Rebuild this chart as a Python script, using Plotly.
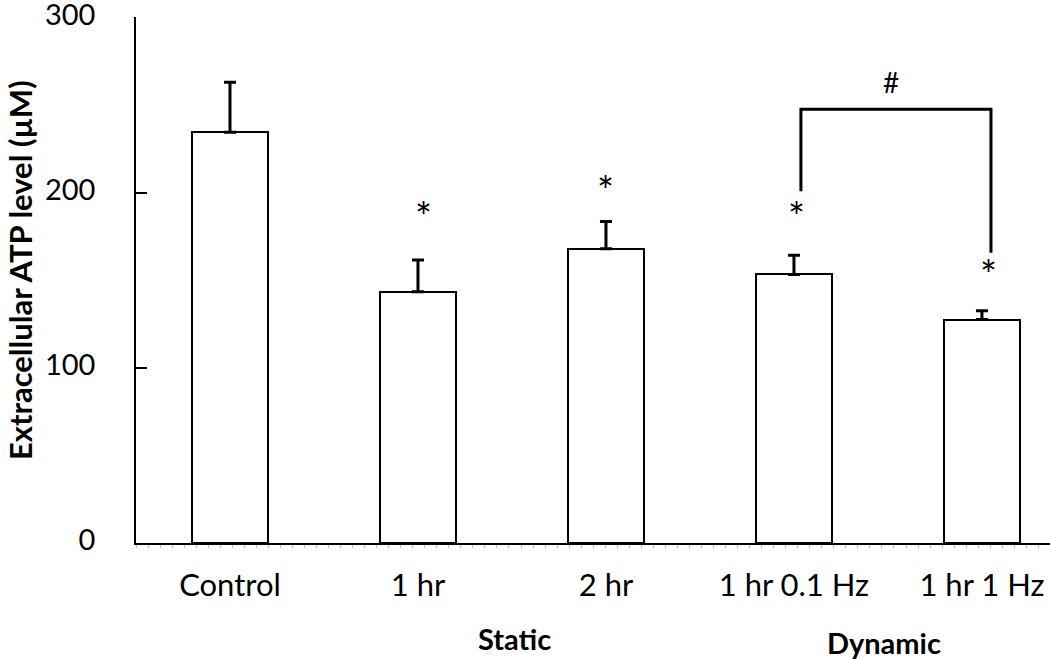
import plotly.graph_objects as go

categories = ["Control", "1 hr", "2 hr", "1 hr 0.1 Hz", "1 hr 1 Hz"]
atp_mean = [234.5, 143.5, 168.0, 153.3, 127.6]
atp_sem = [28.6, 18.0, 15.6, 11.0, 5.0]

star_x = [1.03, 2.0, 3.015, 4.035]
star_y = [186, 201, 186, 153]

bracket_x = [3.037, 3.037, 4.048, 4.048]
bracket_y = [200.8, 247.7, 247.7, 165.7]
hash_pos = (3.516, 263)

group_labels = ["Static", "Dynamic"]
group_x = [1.516, 3.48]
group_y_px = [638, 642]  # vertical position of the group captions, pixels from top

y_title = "Extracellular ATP level (µM)"
y_title_px = (20, 270)  # centre of the rotated y-axis title, pixels

FONT = "Lato"
xs = list(range(len(categories)))
W, H = 1050, 659
L, T, B = 136, 17, 116
YMAX = 300.3

fig = go.Figure()
fig.add_trace(go.Bar(
    x=xs, y=atp_mean, width=0.4,
    marker=dict(color="white", line=dict(color="black", width=2)),
    error_y=dict(type="data", symmetric=False, array=atp_sem,
                 arrayminus=[0] * len(atp_sem), thickness=3, width=6, color="black"),
    showlegend=False, hoverinfo="skip",
))
fig.add_trace(go.Scatter(
    x=bracket_x, y=bracket_y, mode="lines",
    line=dict(color="black", width=3), showlegend=False, hoverinfo="skip",
    cliponaxis=False,
))

annotations = []
for sx, sy in zip(star_x, star_y):
    annotations.append(dict(x=sx, y=sy, xref="x", yref="y", text="*", showarrow=False,
                            font=dict(family=FONT, size=40, color="black"), yanchor="middle"))
annotations.append(dict(x=hash_pos[0], y=hash_pos[1], xref="x", yref="y", text="#", showarrow=False,
                        font=dict(family=FONT, size=28, color="black"), yanchor="middle"))
plot_h = H - T - B
plot_w = W - L
for gl, gx, gp in zip(group_labels, group_x, group_y_px):
    annotations.append(dict(x=gx, y=(H - B - gp) / plot_h, xref="x", yref="paper",
                            text="<b>" + gl + "</b>", showarrow=False,
                            font=dict(family=FONT, size=29, color="black"), yanchor="middle"))
annotations.append(dict(x=(y_title_px[0] - L) / plot_w, y=(H - B - y_title_px[1]) / plot_h,
                        xref="paper", yref="paper", text="<b>" + y_title + "</b>", textangle=-90,
                        showarrow=False, xanchor="center", yanchor="middle",
                        font=dict(family=FONT, size=31, color="black")))

fig.update_layout(
    width=W, height=H,
    margin=dict(l=L, r=0, t=T, b=B, autoexpand=False),
    plot_bgcolor="white", paper_bgcolor="white",
    font=dict(family=FONT, color="black"),
    bargap=0,
    annotations=annotations,
)
fig.update_xaxes(
    range=[-0.5, 4.362], tickmode="array", tickvals=xs, ticktext=categories,
    showline=True, linecolor="black", linewidth=2, ticks="",
    tickfont=dict(family=FONT, size=31), ticklabelstandoff=14,
    showgrid=False, zeroline=False, automargin=False, ticklabeloverflow="allow",
    minor=dict(ticks="outside", ticklen=3, tickcolor="#bbbbbb", dtick=0.064, tick0=-0.5, showgrid=False),
)
fig.update_yaxes(
    range=[0, YMAX], tickvals=[0, 100, 200, 300],
    showline=True, linecolor="black", linewidth=1.5,
    ticks="inside", ticklen=11, tickwidth=1.5, tickcolor="black",
    tickfont=dict(family=FONT, size=29), ticklabelstandoff=33, ticklabelshift=-3,
    ticklabeloverflow="allow",
    showgrid=False, zeroline=False, automargin=False,
)

fig.write_html("out.html", config={"displayModeBar": False},
               post_script="document.body.style.margin='0';document.body.style.overflow='hidden';")
